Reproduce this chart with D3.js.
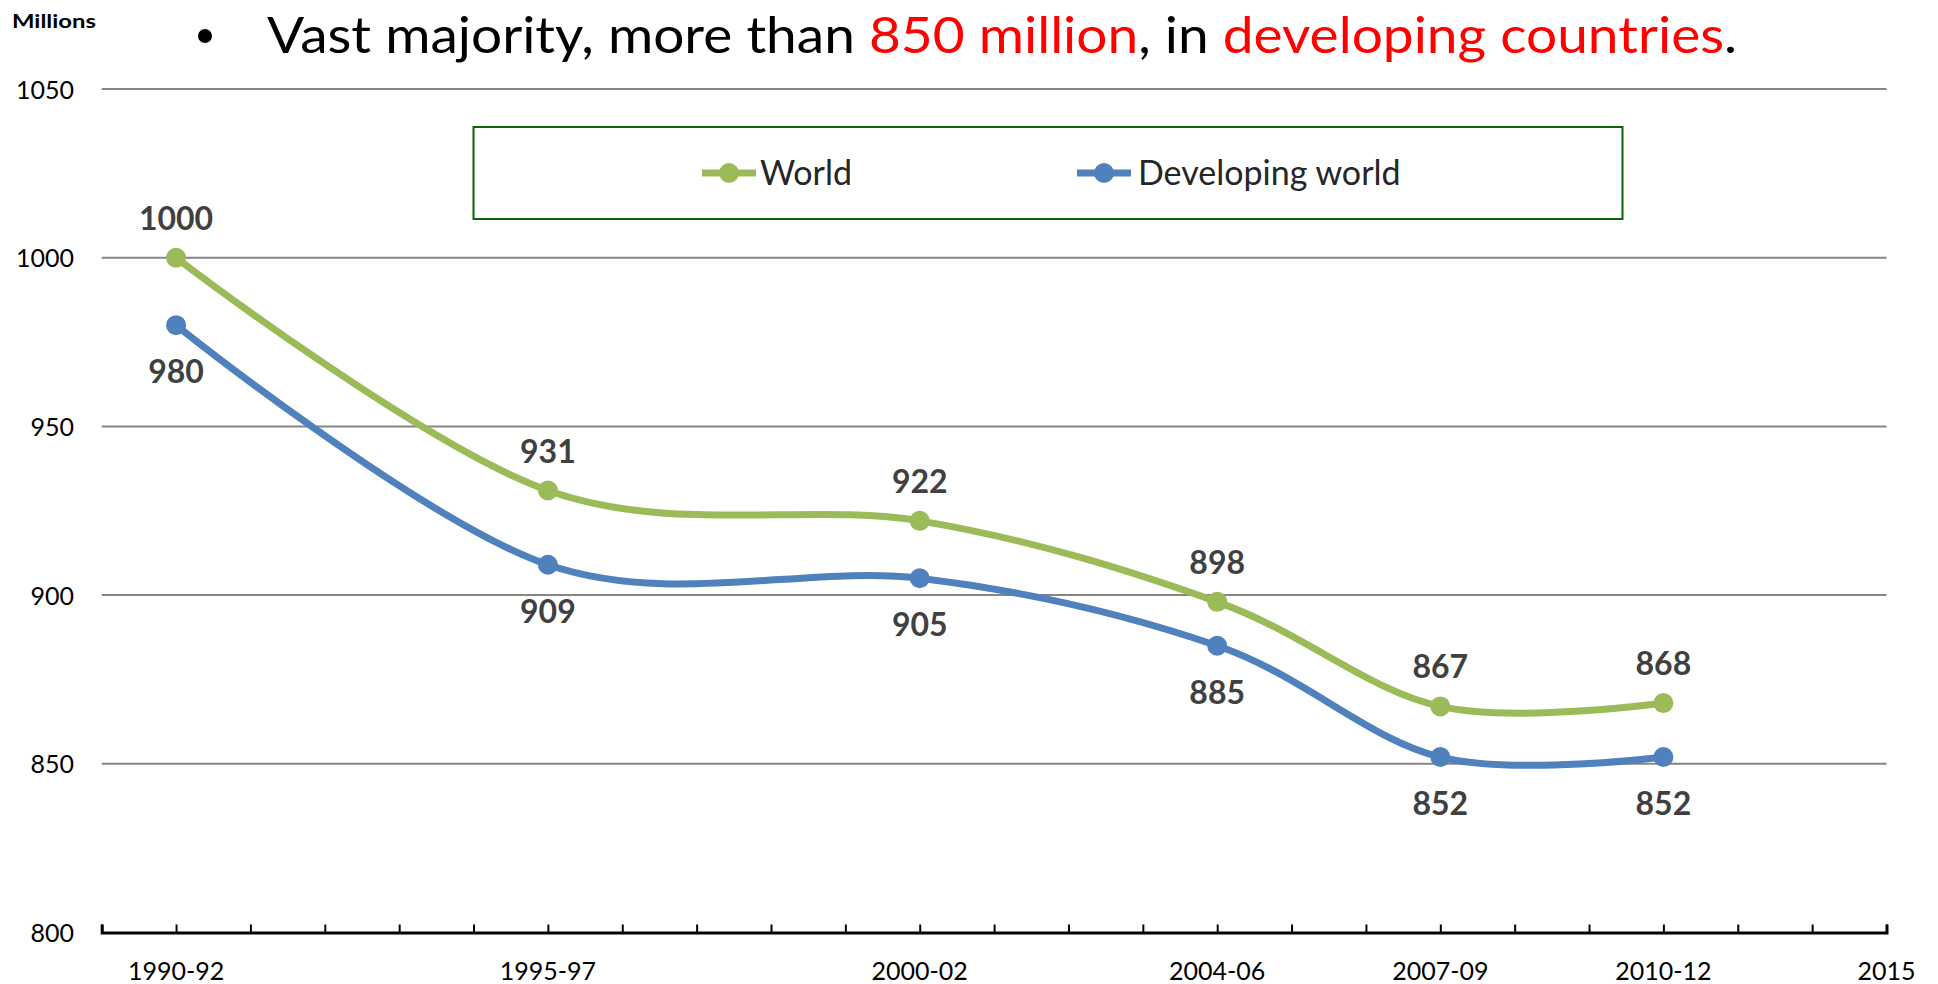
<!DOCTYPE html>
<html>
<head>
<meta charset="utf-8">
<script src="https://cdn.jsdelivr.net/npm/d3@7"></script>
<style>
  html, body { margin: 0; padding: 0; background: #fff; }
  svg { display: block; }
</style>
</head>
<body>
<svg id="chart" width="1938" height="984"></svg>
<script>
// Undernourished people, millions
const categories = ["1990-92", "1995-97", "2000-02", "2004-06", "2007-09", "2010-12"];
const periodMidYear = [1991, 1996, 2001, 2005, 2008, 2011];
const worldValues = [1000, 931, 922, 898, 867, 868];
const developingValues = [980, 909, 905, 885, 852, 852];
const yTicks = [800, 850, 900, 950, 1000, 1050];
const axisEndLabel = "2015";
const seriesNames = ["World", "Developing world"];

const svg = d3.select("#chart");
const FONT = "Lato, 'Open Sans', sans-serif";

const x = d3.scaleLinear().domain([1990, 2014]).range([101.7, 1886.5]);
const y = d3.scaleLinear().domain([800, 1050]).range([932.5, 89]);

// Title line
const title = svg.append("text")
  .attr("x", 267).attr("y", 53)
  .attr("font-family", FONT).attr("font-size", 50)
  .attr("textLength", 1470).attr("lengthAdjust", "spacingAndGlyphs")
  .attr("fill", "#000");
[["Vast majority, more than ", "#000"], ["850 million", "#ff0000"], [", in ", "#000"],
 ["developing countries", "#ff0000"], [".", "#000"]].forEach(([t, c]) => {
  title.append("tspan").attr("fill", c).text(t);
});
svg.append("circle").attr("cx", 205).attr("cy", 36).attr("r", 7).attr("fill", "#000");

svg.append("text")
  .attr("x", 12).attr("y", 28)
  .attr("font-family", FONT).attr("font-size", 18).attr("font-weight", "bold")
  .attr("textLength", 84).attr("lengthAdjust", "spacingAndGlyphs")
  .text("Millions");

// Horizontal gridlines
svg.append("g")
  .selectAll("line")
  .data(yTicks.filter(v => v > 800))
  .join("line")
  .attr("x1", x.range()[0]).attr("x2", x.range()[1])
  .attr("y1", d => y(d)).attr("y2", d => y(d))
  .attr("stroke", "#868686").attr("stroke-width", 2);

// Y axis labels (no axis line)
const yAxis = d3.axisLeft(y).tickValues(yTicks).tickFormat(d3.format("d")).tickSize(0).tickPadding(0);
const gy = svg.append("g").attr("transform", "translate(74,0)").call(yAxis);
gy.select(".domain").remove();
gy.selectAll("text")
  .attr("font-family", FONT).attr("font-size", 25).attr("fill", "#000")
  .attr("dy", "0.36em");

// X axis with inward ticks every year
const xAxis = d3.axisBottom(x).tickValues(d3.range(1990, 2015)).tickSize(-8).tickFormat("");
const gx = svg.append("g").attr("transform", `translate(0,${y(800)})`).call(xAxis);
gx.select(".domain").attr("stroke", "#000").attr("stroke-width", 3);
gx.selectAll(".tick line").attr("stroke", "#000").attr("stroke-width", 2);

const xLabels = categories.map((c, i) => ({ label: c, pos: periodMidYear[i] }))
  .concat([{ label: axisEndLabel, pos: x.domain()[1] }]);
svg.append("g")
  .selectAll("text")
  .data(xLabels)
  .join("text")
  .attr("x", d => x(d.pos)).attr("y", 980)
  .attr("text-anchor", "middle")
  .attr("font-family", FONT).attr("font-size", 25).attr("fill", "#000")
  .text(d => d.label);

// Series
const series = [
  { name: seriesNames[0], values: worldValues, color: "#9BBB59", labelDy: -28 },
  { name: seriesNames[1], values: developingValues, color: "#4F81BD", labelDy: 58 }
];

const line = d3.line()
  .x(d => x(d.pos)).y(d => y(d.v))
  .curve(d3.curveCardinal.tension(0));

series.forEach(s => {
  const pts = s.values.map((v, i) => ({ v, pos: periodMidYear[i] }));
  const g = svg.append("g");
  g.append("path")
    .attr("d", line(pts))
    .attr("fill", "none")
    .attr("stroke", s.color).attr("stroke-width", 7)
    .attr("stroke-linecap", "round").attr("stroke-linejoin", "round");
  g.selectAll("circle").data(pts).join("circle")
    .attr("cx", d => x(d.pos)).attr("cy", d => y(d.v)).attr("r", 10)
    .attr("fill", s.color);
  g.selectAll("text").data(pts).join("text")
    .attr("x", d => x(d.pos)).attr("y", d => y(d.v) + s.labelDy)
    .attr("text-anchor", "middle")
    .attr("font-family", FONT).attr("font-size", 32).attr("font-weight", "bold")
    .attr("fill", "#404040")
    .text(d => d.v);
});

// Legend
const legend = svg.append("g");
legend.append("rect")
  .attr("x", 473.5).attr("y", 127).attr("width", 1149).attr("height", 92)
  .attr("fill", "#fff").attr("stroke", "#0a640a").attr("stroke-width", 2);
const legendItems = [
  { name: series[0].name, color: series[0].color, cx: 729, tx: 760 },
  { name: series[1].name, color: series[1].color, cx: 1104, tx: 1138 }
];
legendItems.forEach(it => {
  legend.append("line")
    .attr("x1", it.cx - 27).attr("x2", it.cx + 27).attr("y1", 173).attr("y2", 173)
    .attr("stroke", it.color).attr("stroke-width", 7);
  legend.append("circle").attr("cx", it.cx).attr("cy", 173).attr("r", 10).attr("fill", it.color);
  legend.append("text")
    .attr("x", it.tx).attr("y", 173).attr("dy", "0.36em")
    .attr("font-family", FONT).attr("font-size", 34).attr("fill", "#262626")
    .text(it.name);
});
</script>
</body>
</html>
